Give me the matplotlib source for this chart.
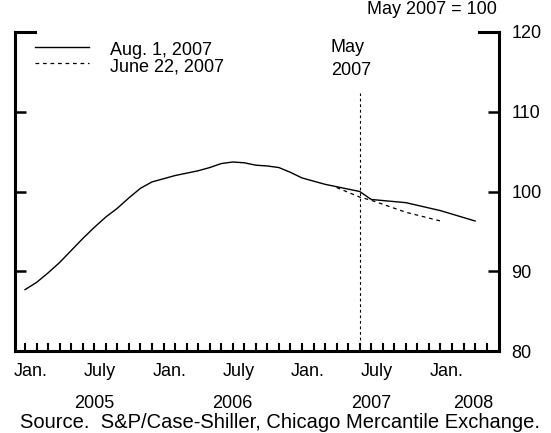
import matplotlib
matplotlib.use("Agg")
import matplotlib.pyplot as plt
import matplotlib.transforms as mtransforms

plt.rcParams['font.family'] = ['Liberation Sans', 'DejaVu Sans']

# month index: 0 = end of Dec 2004 / start of Jan 2005 (ticks at month boundaries)
aug_x = [0, 1, 2, 3, 4, 5, 6, 7, 8, 9, 10, 11, 12, 13, 14, 15, 16, 17, 18, 19,
         20, 21, 22, 23, 24, 25, 26, 27, 28, 29, 30, 33, 36, 39]
aug_y = [87.7, 88.6, 89.8, 91.1, 92.6, 94.1, 95.5, 96.8, 97.9, 99.2,
         100.4, 101.2, 101.6, 102.0, 102.3, 102.6, 103.0, 103.5, 103.7, 103.6,
         103.3, 103.2, 103.0, 102.4, 101.7, 101.3, 100.9, 100.6, 100.3, 100.0,
         99.0, 98.6, 97.6, 96.3]
june_x = [27, 29, 30, 33, 36]
june_y = [100.5, 99.3, 98.9, 97.4, 96.3]

month_pos = [0.5, 6.5, 12.5, 18.5, 24.5, 30.5, 36.5]
month_labels = ['Jan.', 'July', 'Jan.', 'July', 'Jan.', 'July', 'Jan.']
year_pos = [6, 18, 30, 38.8]
year_labels = ['2005', '2006', '2007', '2008']
yticks = [80, 90, 100, 110, 120]
ref_month = 29  # May 2007

W, H = 551, 433
fig = plt.figure(figsize=(W/100, H/100), dpi=100)
ax = fig.add_axes([15/W, 1-351/H, 484/W, 319/H])


def ax_y(py):
    return (351 - py) / 319


def ax_x(px):
    return (px - 15) / 484


ax.plot(aug_x, aug_y, color='black', lw=1.0)
ax.plot(june_x, june_y, color='black', lw=0.9, ls=(0, (3, 3)))
ax.plot([ref_month, ref_month], [80, 112.3], color='black', lw=0.8, ls=(0, (2.5, 2.5)))

ax.set_xlim(-0.87, 41.07)
ax.set_ylim(80, 120)

for s in ['left', 'right', 'bottom']:
    ax.spines[s].set_linewidth(2.2)
ax.spines['top'].set_visible(False)

ax.set_yticks(yticks)
ax.set_yticklabels([str(v) for v in yticks], fontsize=13)
ax.yaxis.set_ticks_position('both')
ax.tick_params(axis='y', direction='in', length=8, width=1.8, labelleft=False,
               labelright=True, pad=9)

ax.set_xticks(month_pos)
ax.set_xticklabels(month_labels, fontsize=13)
ax.set_xticks(range(0, 41), minor=True)
ax.tick_params(axis='x', which='major', length=0, pad=8.5)
ax.tick_params(axis='x', which='minor', direction='in', length=5.5, width=1.5)

# top brackets
ax.plot([0, 20/484], [1, 1], transform=ax.transAxes, color='black', lw=2.2,
        clip_on=False, solid_capstyle='projecting')
ax.plot([1-20/484, 1], [1, 1], transform=ax.transAxes, color='black', lw=2.2,
        clip_on=False, solid_capstyle='projecting')

trans = mtransforms.blended_transform_factory(ax.transData, ax.transAxes)
for xp, lab in zip(year_pos, year_labels):
    ax.text(xp, ax_y(404), lab, transform=trans, ha='center', va='center', fontsize=13)

# legend
ax.plot([ax_x(35), ax_x(89)], [ax_y(46.5), ax_y(46.5)], transform=ax.transAxes,
        color='black', lw=1.0)
ax.plot([ax_x(35), ax_x(89)], [ax_y(63), ax_y(63)], transform=ax.transAxes,
        color='black', lw=0.9, ls=(0, (3, 3)))
ax.text(ax_x(110), ax_y(55), 'Aug. 1, 2007', transform=ax.transAxes, ha='left',
        va='baseline', fontsize=13)
ax.text(ax_x(110), ax_y(72), 'June 22, 2007', transform=ax.transAxes, ha='left',
        va='baseline', fontsize=13)

ax.text(ref_month - 2.5, ax_y(52), 'May', transform=trans, ha='left', va='baseline',
        fontsize=13)
ax.text(ref_month - 2.5, ax_y(75), '2007', transform=trans, ha='left', va='baseline',
        fontsize=13)

fig.text(497/W, 1-10/H, 'May 2007 = 100', ha='right', va='center', fontsize=13)
fig.text(280/W, 1-423/H, 'Source.  S&P/Case-Shiller, Chicago Mercantile Exchange.',
         ha='center', va='center', fontsize=14.5)

fig.savefig('out.png', dpi=100)
